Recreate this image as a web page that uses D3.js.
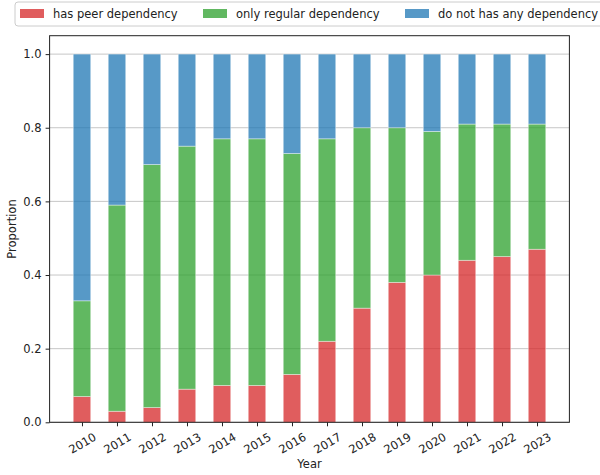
<!DOCTYPE html>
<html>
<head>
<meta charset="utf-8">
<script src="https://cdn.jsdelivr.net/npm/d3@7"></script>
<style>
  html, body { margin: 0; padding: 0; background: #fff; }
  svg { display: block; font-family: "DejaVu Sans", sans-serif; }
</style>
</head>
<body>
<svg id="chart" width="600" height="475"></svg>
<script>
const years = ["2010","2011","2012","2013","2014","2015","2016","2017","2018","2019","2020","2021","2022","2023"];
const peer    = [0.07,0.03,0.04,0.09,0.10,0.10,0.13,0.22,0.31,0.38,0.40,0.44,0.45,0.47];
const regular = [0.26,0.56,0.66,0.66,0.67,0.67,0.60,0.55,0.49,0.42,0.39,0.37,0.36,0.34];
const none    = [0.67,0.41,0.30,0.25,0.23,0.23,0.27,0.23,0.20,0.20,0.21,0.19,0.19,0.19];
const seriesNames = ["has peer dependency","only regular dependency","do not has any dependency"];
const seriesColors = ["#d62728","#2ca02c","#1f77b4"];
const yTicks = [0.0,0.2,0.4,0.6,0.8,1.0];

(function () {
const svg = d3.select("#chart");
const mL = 49.6, mR = 569.4, mT = 35.7, mB = 422.3;
const fs = 11.5;

const x = d3.scaleLinear().domain([-0.925, 13.925]).range([mL, mR]);
const y = d3.scaleLinear().domain([0, 1.05]).range([mB, mT]);
const barW = x(0.5) - x(0);

// grid
svg.append("g").selectAll("line").data(yTicks).join("line")
  .attr("x1", mL).attr("x2", mR)
  .attr("y1", d => y(d)).attr("y2", d => y(d))
  .attr("stroke", "#b0b0b0").attr("stroke-width", 0.9).attr("stroke-opacity", 0.8);

const rows = years.map((yr, i) => ({year: yr, i, s0: peer[i], s1: regular[i], s2: none[i]}));
const stack = d3.stack().keys(["s0","s1","s2"])(rows);

svg.append("g").selectAll("g").data(stack).join("g")
  .attr("fill", (d, k) => seriesColors[k])
  .selectAll("rect").data(d => d).join("rect")
  .attr("x", d => x(d.data.i) - barW / 2)
  .attr("width", barW)
  .attr("y", d => y(d[1]))
  .attr("height", d => y(d[0]) - y(d[1]))
  .attr("fill-opacity", 0.75)
  .attr("stroke", "#fff").attr("stroke-width", 0.8).attr("stroke-opacity", 0.5);

// frame
svg.append("rect").attr("x", mL).attr("y", mT)
  .attr("width", mR - mL).attr("height", mB - mT)
  .attr("fill", "none").attr("stroke", "#222").attr("stroke-width", 1);

// y axis
const yAxis = d3.axisLeft(y).tickValues(yTicks).tickFormat(d3.format(".1f")).tickSize(4).tickPadding(4);
const gy = svg.append("g").attr("transform", `translate(${mL},0)`).call(yAxis);
gy.select(".domain").remove();
gy.selectAll("line").attr("stroke", "#222");
gy.selectAll("text").attr("font-size", fs).attr("fill", "#222").attr("font-family", "DejaVu Sans");

// x axis
const xAxis = d3.axisBottom(x).tickValues(d3.range(years.length)).tickFormat(i => years[i]).tickSize(4).tickPadding(4);
const gx = svg.append("g").attr("transform", `translate(0,${mB})`).call(xAxis);
gx.select(".domain").remove();
gx.selectAll("line").attr("stroke", "#222");
gx.selectAll("text")
  .attr("font-size", fs).attr("fill", "#222").attr("font-family", "DejaVu Sans")
  .attr("text-anchor", "middle").attr("dy", null).attr("dominant-baseline", "central")
  .attr("y", 21)
  .attr("transform", "rotate(-30 0 21)");

// axis labels
svg.append("text").attr("x", (mL + mR) / 2).attr("y", 468)
  .attr("text-anchor", "middle").attr("font-size", fs).attr("fill", "#222").text("Year");
svg.append("text").attr("transform", `translate(16,${(mT + mB) / 2}) rotate(-90)`)
  .attr("text-anchor", "middle").attr("font-size", fs).attr("fill", "#222").text("Proportion");

// legend
const lg = svg.append("g");
lg.append("rect").attr("x", 15).attr("y", 2).attr("width", 600).attr("height", 24)
  .attr("rx", 3).attr("fill", "#fff").attr("fill-opacity", 0.8)
  .attr("stroke", "#cccccc").attr("stroke-width", 1);
const legX = [20, 203, 405];
seriesNames.forEach((name, k) => {
  lg.append("rect").attr("x", legX[k]).attr("y", 9).attr("width", 24).attr("height", 9)
    .attr("fill", seriesColors[k]).attr("fill-opacity", 0.75);
  lg.append("text").attr("x", legX[k] + 33).attr("y", 13.5)
    .attr("dominant-baseline", "central").attr("font-size", fs).attr("fill", "#222").text(name);
});
})();
</script>
</body>
</html>
